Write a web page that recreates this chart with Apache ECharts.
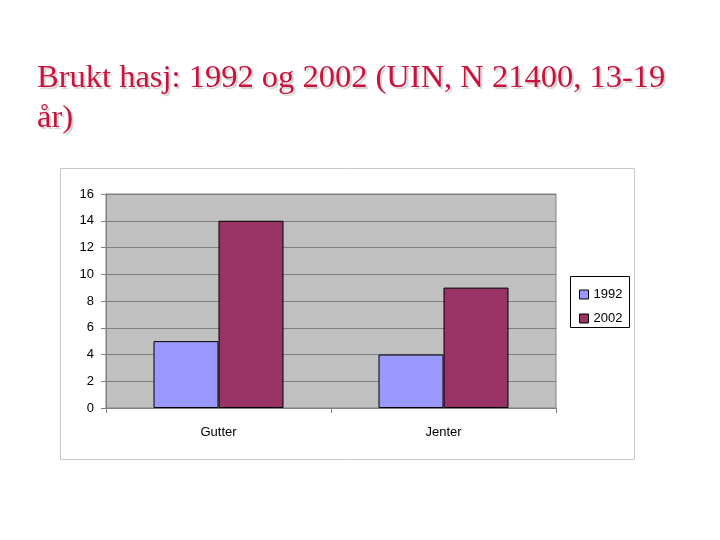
<!DOCTYPE html><html><head><meta charset="utf-8"><script src="https://cdn.jsdelivr.net/npm/echarts@6/dist/echarts.min.js"></script>
<style>body{margin:0;background:#fff}#c{width:720px;height:540px}</style></head><body><div id="c"></div><script>
const categories=['Gutter','Jenter'];
const s1992=[5,4];
const s2002=[14,9];
const ch=echarts.init(document.getElementById('c'));
ch.setOption({animation:false,
graphic:[{type:'rect',shape:{x:60.5,y:168.5,width:574,height:291},style:{fill:'#fff',stroke:'#c8c8c8',lineWidth:1},z:-10},
{type:'rect',shape:{x:570.5,y:276.5,width:59,height:51},style:{fill:'#fff',stroke:'#000',lineWidth:1},z:-5},
{type:'text',left:37,top:58,style:{text:'Brukt hasj: 1992 og 2002 (UIN, N 21400, 13-19\når)',font:'32.5px "Liberation Serif"',fill:'#c8143c',lineHeight:40,textShadowColor:'rgba(120,120,120,0.35)',textShadowOffsetX:2,textShadowOffsetY:2,textShadowBlur:1}}],
grid:{left:106,top:194,width:450,height:214,backgroundColor:'#c0c0c0',show:true,borderColor:'#808080',borderWidth:1},
legend:{orient:'vertical',left:574,top:283,icon:'rect',itemWidth:9,itemHeight:9,itemGap:11,textStyle:{fontFamily:'Liberation Sans',fontSize:13,color:'#000'},data:[{name:'1992',itemStyle:{borderColor:'#000',borderWidth:1}},{name:'2002',itemStyle:{borderColor:'#000',borderWidth:1}}]},
xAxis:{type:'category',data:categories,axisLine:{lineStyle:{color:'#808080'}},axisTick:{show:true,lineStyle:{color:'#808080'}},axisLabel:{fontFamily:'Liberation Sans',fontSize:13,color:'#000',margin:18}},
yAxis:{type:'value',min:0,max:16,interval:2,axisLine:{show:true,lineStyle:{color:'#808080'}},axisTick:{show:true,lineStyle:{color:'#808080'}},splitLine:{lineStyle:{color:'#808080'}},axisLabel:{fontFamily:'Liberation Sans',fontSize:13,color:'#000',margin:12}},
series:[{name:'1992',type:'bar',data:s1992,barWidth:65,barGap:'0%',itemStyle:{color:'#9999ff',borderColor:'#000',borderWidth:1}},
{name:'2002',type:'bar',data:s2002,barWidth:65,itemStyle:{color:'#993366',borderColor:'#000',borderWidth:1}}]});
</script></body></html>
